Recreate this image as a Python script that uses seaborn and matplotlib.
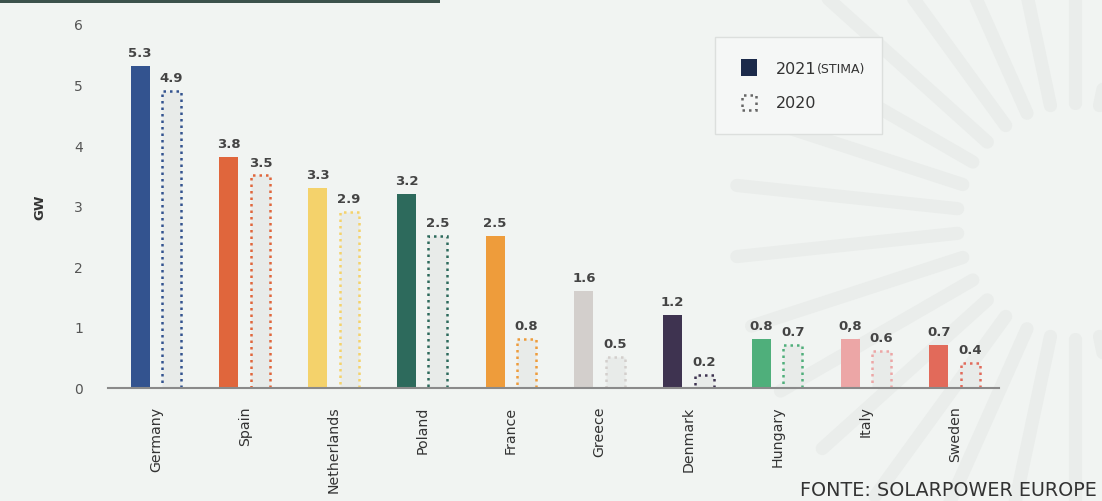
import matplotlib
matplotlib.use("Agg")
import numpy as np
import matplotlib.pyplot as plt
import seaborn as sns
import pandas as pd
from matplotlib.patches import Rectangle
from matplotlib.lines import Line2D

countries = ["Germany", "Spain", "Netherlands", "Poland", "France",
             "Greece", "Denmark", "Hungary", "Italy", "Sweden"]
gw_2021 = [5.3, 3.8, 3.3, 3.2, 2.5, 1.6, 1.2, 0.8, 0.8, 0.7]
gw_2020 = [4.9, 3.5, 2.9, 2.5, 0.8, 0.5, 0.2, 0.7, 0.6, 0.4]
labels_2021 = ["5.3", "3.8", "3.3", "3.2", "2.5", "1.6", "1.2", "0.8", "0,8", "0.7"]
labels_2020 = ["4.9", "3.5", "2.9", "2.5", "0.8", "0.5", "0.2", "0.7", "0.6", "0.4"]
colors = ["#33538F", "#E0663C", "#F4D26B", "#2D6A5C", "#EE9C3B",
          "#D3CFCC", "#3E3350", "#4FAF7B", "#ECA6A6", "#E26A5A"]
years = ["2021", "2020"]
yticks = [0, 1, 2, 3, 4, 5, 6]

sns.set_theme(style="white")
plt.rcParams['font.family'] = ['DejaVu Sans']

df = pd.DataFrame({
    "country": countries * 2,
    "gw": gw_2021 + gw_2020,
    "year": ["2021"] * len(countries) + ["2020"] * len(countries),
})

W, H = 1102, 502
BG = "#F1F4F2"
fig = plt.figure(figsize=(W / 100, H / 100), dpi=100)
fig.patch.set_facecolor(BG)

# decorative sun rays in the background
cx, cy = 1075, 222
for k in range(30):
    a = np.deg2rad(6 + 12 * k)
    r0, r1 = 118, 340
    xs = [cx + r0 * np.cos(a), cx + r1 * np.cos(a)]
    ys = [cy - r0 * np.sin(a), cy - r1 * np.sin(a)]
    fig.add_artist(Line2D([x / W for x in xs], [1 - y / H for y in ys],
                          transform=fig.transFigure, color="#EAEDEB",
                          linewidth=9.5, solid_capstyle="round", zorder=0))

ax = fig.add_axes([108 / W, (H - 388.5) / H, (999 - 108) / W, (388.5 - 25) / H])
ax.set_facecolor("none")
ax.set_zorder(2)

sns.barplot(data=df, x="country", y="gw", hue="year", hue_order=years,
            order=countries, width=0.71, ax=ax, legend=False, errorbar=None)

solid, dotted = ax.containers[0], ax.containers[1]
for i, p in enumerate(solid.patches):
    c = p.get_x() + p.get_width() / 2
    w = 0.215
    p.set_x(c - w / 2)
    p.set_width(w)
    p.set_facecolor(colors[i])
    p.set_edgecolor("none")
for i, p in enumerate(dotted.patches):
    c = p.get_x() + p.get_width() / 2
    w = 0.215
    p.set_x(c - w / 2)
    p.set_width(w)
    p.set_facecolor("#E8EBE9")
    p.set_edgecolor(colors[i])
    p.set_linestyle((0, (1, 1.6)))
    p.set_linewidth(1.8)

ax.bar_label(solid, labels=labels_2021, padding=5, fontsize=9.5,
             fontweight="semibold", color="#444444")
ax.bar_label(dotted, labels=labels_2020, padding=5, fontsize=9.5,
             fontweight="semibold", color="#444444")

ax.set_xlim(-0.54, 9.5)
ax.set_ylim(0, 6)
ax.set_yticks(yticks)
ax.set_xlabel("")
ax.set_ylabel("")
for s in ["top", "right", "left"]:
    ax.spines[s].set_visible(False)
ax.spines["bottom"].set_color("#8A8A8A")
ax.spines["bottom"].set_linewidth(1.5)
ax.tick_params(axis="y", length=0, pad=18, labelsize=10, labelcolor="#555555")
ax.tick_params(axis="x", length=0, pad=13, labelsize=10.2, labelcolor="#333333",
               labelrotation=90)

fig.text(40 / W, 1 - 207 / H, "GW", rotation=90, ha="center", va="center",
         fontsize=9.5, fontweight="bold", color="#333333")

# legend box
fig.add_artist(Rectangle((715 / W, 1 - 135 / H), (882 - 715) / W, (135 - 38) / H,
                         transform=fig.transFigure, facecolor="#F5F7F6",
                         edgecolor="#DCDFDD", linewidth=1, zorder=3))
fig.add_artist(Rectangle((741 / W, 1 - 77 / H), 16 / W, 17 / H,
                         transform=fig.transFigure, facecolor="#1B2A4A",
                         edgecolor="none", zorder=4))
fig.add_artist(Rectangle((742 / W, 1 - 111 / H), 14 / W, 15 / H,
                         transform=fig.transFigure, facecolor="none",
                         edgecolor="#666666", linestyle=(0, (1, 1.6)),
                         linewidth=1.8, zorder=4))
t = fig.text(776 / W, 1 - 69 / H, "2021", ha="left", va="center",
             fontsize=11.5, color="#333333", zorder=4)
fig.canvas.draw()
bb = t.get_window_extent()
fig.text(bb.x1 / W, 1 - 70 / H, "(STIMA)", ha="left", va="center",
         fontsize=9, color="#333333", zorder=4)
fig.text(776 / W, 1 - 104 / H, "2020", ha="left", va="center",
         fontsize=11.5, color="#333333", zorder=4)

# source
fig.text(1097 / W, 1 - 491 / H, "FONTE: SOLARPOWER EUROPE", ha="right",
         va="center", fontsize=13.8, color="#333333", zorder=4)

# top-left rule
fig.add_artist(Rectangle((0, 1 - 4 / H), 440 / W, 4 / H, transform=fig.transFigure,
                         facecolor="#3C524C", edgecolor="none", zorder=4))

fig.savefig("out.png", dpi=100, facecolor=BG)
